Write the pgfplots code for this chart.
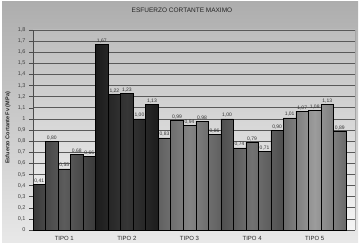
\documentclass[border=0pt]{standalone}
\usepackage{pgfplots}
\pgfplotsset{compat=1.18}
\usepackage{fontspec}
\setmainfont{Liberation Sans}
\definecolor{gAe}{HTML}{3A3A3A}\definecolor{gAm}{HTML}{5C5C5C}
\definecolor{gBe}{HTML}{1C1C1C}\definecolor{gBm}{HTML}{363636}
\definecolor{gCe}{HTML}{606060}\definecolor{gCm}{HTML}{848484}
\definecolor{gDe}{HTML}{4E4E4E}\definecolor{gDm}{HTML}{727272}
\definecolor{gEe}{HTML}{6A6A6A}\definecolor{gEm}{HTML}{9C9C9C}
\begin{document}
\begin{tikzpicture}[x=1pt,y=1pt]
\path[use as bounding box] (0,0) rectangle (363,246);
\shade[top color=black!32, bottom color=black!9] (2,4) rectangle (358,244);
\node[font=\fontsize{6.5}{7}\selectfont, text=black!85] at (182,236) {ESFUERZO CORTANTE MAXIMO};
\node[rotate=90,font=\fontsize{5.5}{6}\selectfont\bfseries, text=black!85] at (8,118) {Esfuerzo Cortante Fv (MPa)};
\begin{axis}[
  at={(33pt,16pt)}, anchor=south west,
  scale only axis, width=322pt, height=200pt,
  xmin=0, xmax=25.72, ymin=0, ymax=1.8,
  axis background/.style={shade, top color=black!26, bottom color=black!4},
  axis x line*=bottom, axis y line*=left,
  x axis line style={draw=none},
  y axis line style={draw=black!70, line width=0.5pt},
  xtick={2.5,7.5,12.5,17.5,22.5},
  xticklabels={TIPO 1,TIPO 2,TIPO 3,TIPO 4,TIPO 5},
  xtick style={draw=none},
  xticklabel style={font=\fontsize{6}{7}\selectfont, text=black!85, yshift=1pt},
  ytick={0,0.1,0.2,0.3,0.4,0.5,0.6,0.7,0.8,0.9,1,1.1,1.2,1.3,1.4,1.5,1.6,1.7,1.8},
  yticklabel style={font=\fontsize{5.5}{6}\selectfont, text=black!75, /pgf/number format/use comma, /pgf/number format/assume math mode=true},
  ytick style={draw=black!70, line width=0.5pt},
  tick align=outside, major tick length=4pt,
  ymajorgrids, grid style={draw=black!65, line width=0.6pt},
  nodes near coords,
  every node near coord/.append style={font=\fontsize{5}{5}\selectfont, text=black!80, inner sep=1pt,
    /pgf/number format/.cd, fixed, fixed zerofill, precision=2, use comma, assume math mode=true},
  clip=false,
]
\addplot[ybar, bar width=1, bar shift=0pt, draw=black, line width=0.5pt, left color=gAe, right color=gAe, middle color=gAm]
  coordinates {(0.5,0.41) (1.5,0.80) (2.5,0.55) (3.5,0.68) (4.5,0.66)};
\addplot[ybar, bar width=1, bar shift=0pt, draw=black, line width=0.5pt, left color=gBe, right color=gBe, middle color=gBm]
  coordinates {(5.5,1.67) (6.5,1.22) (7.5,1.23) (8.5,1.00) (9.5,1.13)};
\addplot[ybar, bar width=1, bar shift=0pt, draw=black, line width=0.5pt, left color=gCe, right color=gCe, middle color=gCm]
  coordinates {(10.5,0.83) (11.5,0.99) (12.5,0.94) (13.5,0.98) (14.5,0.86)};
\addplot[ybar, bar width=1, bar shift=0pt, draw=black, line width=0.5pt, left color=gDe, right color=gDe, middle color=gDm]
  coordinates {(15.5,1.00) (16.5,0.74) (17.5,0.79) (18.5,0.71) (19.5,0.90)};
\addplot[ybar, bar width=1, bar shift=0pt, draw=black, line width=0.5pt, left color=gEe, right color=gEe, middle color=gEm]
  coordinates {(20.5,1.01) (21.5,1.07) (22.5,1.08) (23.5,1.13) (24.5,0.89)};
\draw[black, line width=0.8pt] (axis cs:0,0) -- (axis cs:25,0);
\draw[black!35, line width=0.5pt] (axis cs:25.72,0) -- (axis cs:25.72,1.8);
\end{axis}
\end{tikzpicture}
\end{document}
